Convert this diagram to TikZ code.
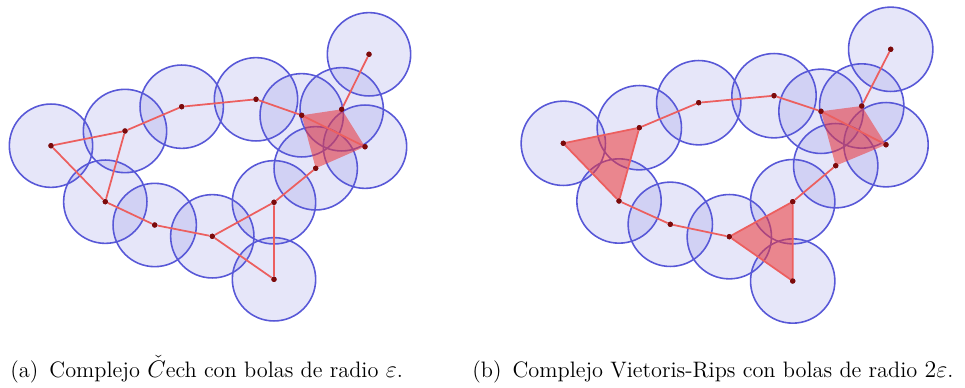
\documentclass[tikz,border=0pt]{standalone}
\usepackage{amsmath}

\definecolor{ballblue}{RGB}{88,88,215}
\definecolor{edgered}{RGB}{236,95,95}
\definecolor{dotred}{RGB}{125,10,10}
\definecolor{simplexred}{RGB}{238,55,55}

\tikzset{
  ball/.style={draw=ballblue, line width=0.95pt, fill=ballblue, fill opacity=0.15},
  edge/.style={edgered, line width=1.05pt},
  simplex/.style={fill=simplexred, fill opacity=0.55},
  pt/.style={circle, fill=dotred, inner sep=0pt, minimum size=3.2pt},
  caption/.style={anchor=base west, inner sep=0pt, font=\fontsize{13.4}{16}\selectfont}
}

\begin{document}
\begin{tikzpicture}[x=0.6pt, y=-0.6pt]
  \useasboundingbox (0,0) rectangle (965,388);

  % (a) Cech complex, balls of radius eps
  \node[pt] (a1) at (51,145.7) {};
  \node[pt] (a2) at (125,131) {};
  \node[pt] (a3) at (181.7,106.7) {};
  \node[pt] (a4) at (256,99.3) {};
  \node[pt] (a5) at (301.7,115.3) {};
  \node[pt] (a6) at (341.7,109.3) {};
  \node[pt] (a7) at (369,54.3) {};
  \node[pt] (a8) at (365,146.7) {};
  \node[pt] (a9) at (315.7,168.3) {};
  \node[pt] (a10) at (274,202.3) {};
  \node[pt] (a11) at (274,279.3) {};
  \node[pt] (a12) at (212.3,236.3) {};
  \node[pt] (a13) at (154.7,225) {};
  \node[pt] (a14) at (105.3,201.7) {};

  % balls
  \foreach \i in {1,...,14}
    \path[ball] (a\i.center) circle (25pt);

  % 2- and 3-simplices
  \path[simplex] (a5.center) -- (a6.center) -- (a8.center) -- (a9.center) -- cycle;

  % edges
  \draw[edge] (a1) -- (a2) -- (a3) -- (a4) -- (a5) -- (a8);
  \draw[edge] (a6) -- (a7);
  \draw[edge] (a1) -- (a14) -- (a2);
  \draw[edge] (a14) -- (a13) -- (a12) -- (a10) -- (a9);
  \draw[edge] (a12) -- (a11) -- (a10);

  % redraw the points on top
  \foreach \i in {1,...,14}
    \node[pt] at (a\i) {};

  \node[caption] (capa) at (10,377)
    {(a)\hspace{0.5em}Complejo $\check{C}$ech con bolas de radio $\varepsilon$.};

  % (b) Vietoris-Rips complex, balls of radius 2eps
  \node[pt] (b1) at (563.3,143.3) {};
  \node[pt] (b2) at (639.3,127.7) {};
  \node[pt] (b3) at (698.7,102.7) {};
  \node[pt] (b4) at (774,95.7) {};
  \node[pt] (b5) at (821,111.3) {};
  \node[pt] (b6) at (861.7,106) {};
  \node[pt] (b7) at (890.7,49.3) {};
  \node[pt] (b8) at (886,144.7) {};
  \node[pt] (b9) at (835.7,165.7) {};
  \node[pt] (b10) at (792.7,201.7) {};
  \node[pt] (b11) at (792.7,281) {};
  \node[pt] (b12) at (729.3,236.7) {};
  \node[pt] (b13) at (670.3,224.3) {};
  \node[pt] (b14) at (619,201) {};

  % balls
  \foreach \i in {1,...,14}
    \path[ball] (b\i.center) circle (25.3pt);

  % 2- and 3-simplices
  \path[simplex] (b1.center) -- (b2.center) -- (b14.center) -- cycle;
  \path[simplex] (b10.center) -- (b11.center) -- (b12.center) -- cycle;
  \path[simplex] (b5.center) -- (b6.center) -- (b8.center) -- (b9.center) -- cycle;

  % edges
  \draw[edge] (b1) -- (b2) -- (b3) -- (b4) -- (b5) -- (b8);
  \draw[edge] (b6) -- (b7);
  \draw[edge] (b1) -- (b14) -- (b2);
  \draw[edge] (b14) -- (b13) -- (b12) -- (b10) -- (b9);
  \draw[edge] (b12) -- (b11) -- (b10);

  \foreach \i in {1,...,14}
    \node[pt] at (b\i) {};

  \node[caption] (capb) at (472,377)
    {(b)\hspace{0.5em}Complejo Vietoris-Rips con bolas de radio $2\varepsilon$.};
\end{tikzpicture}
\end{document}
